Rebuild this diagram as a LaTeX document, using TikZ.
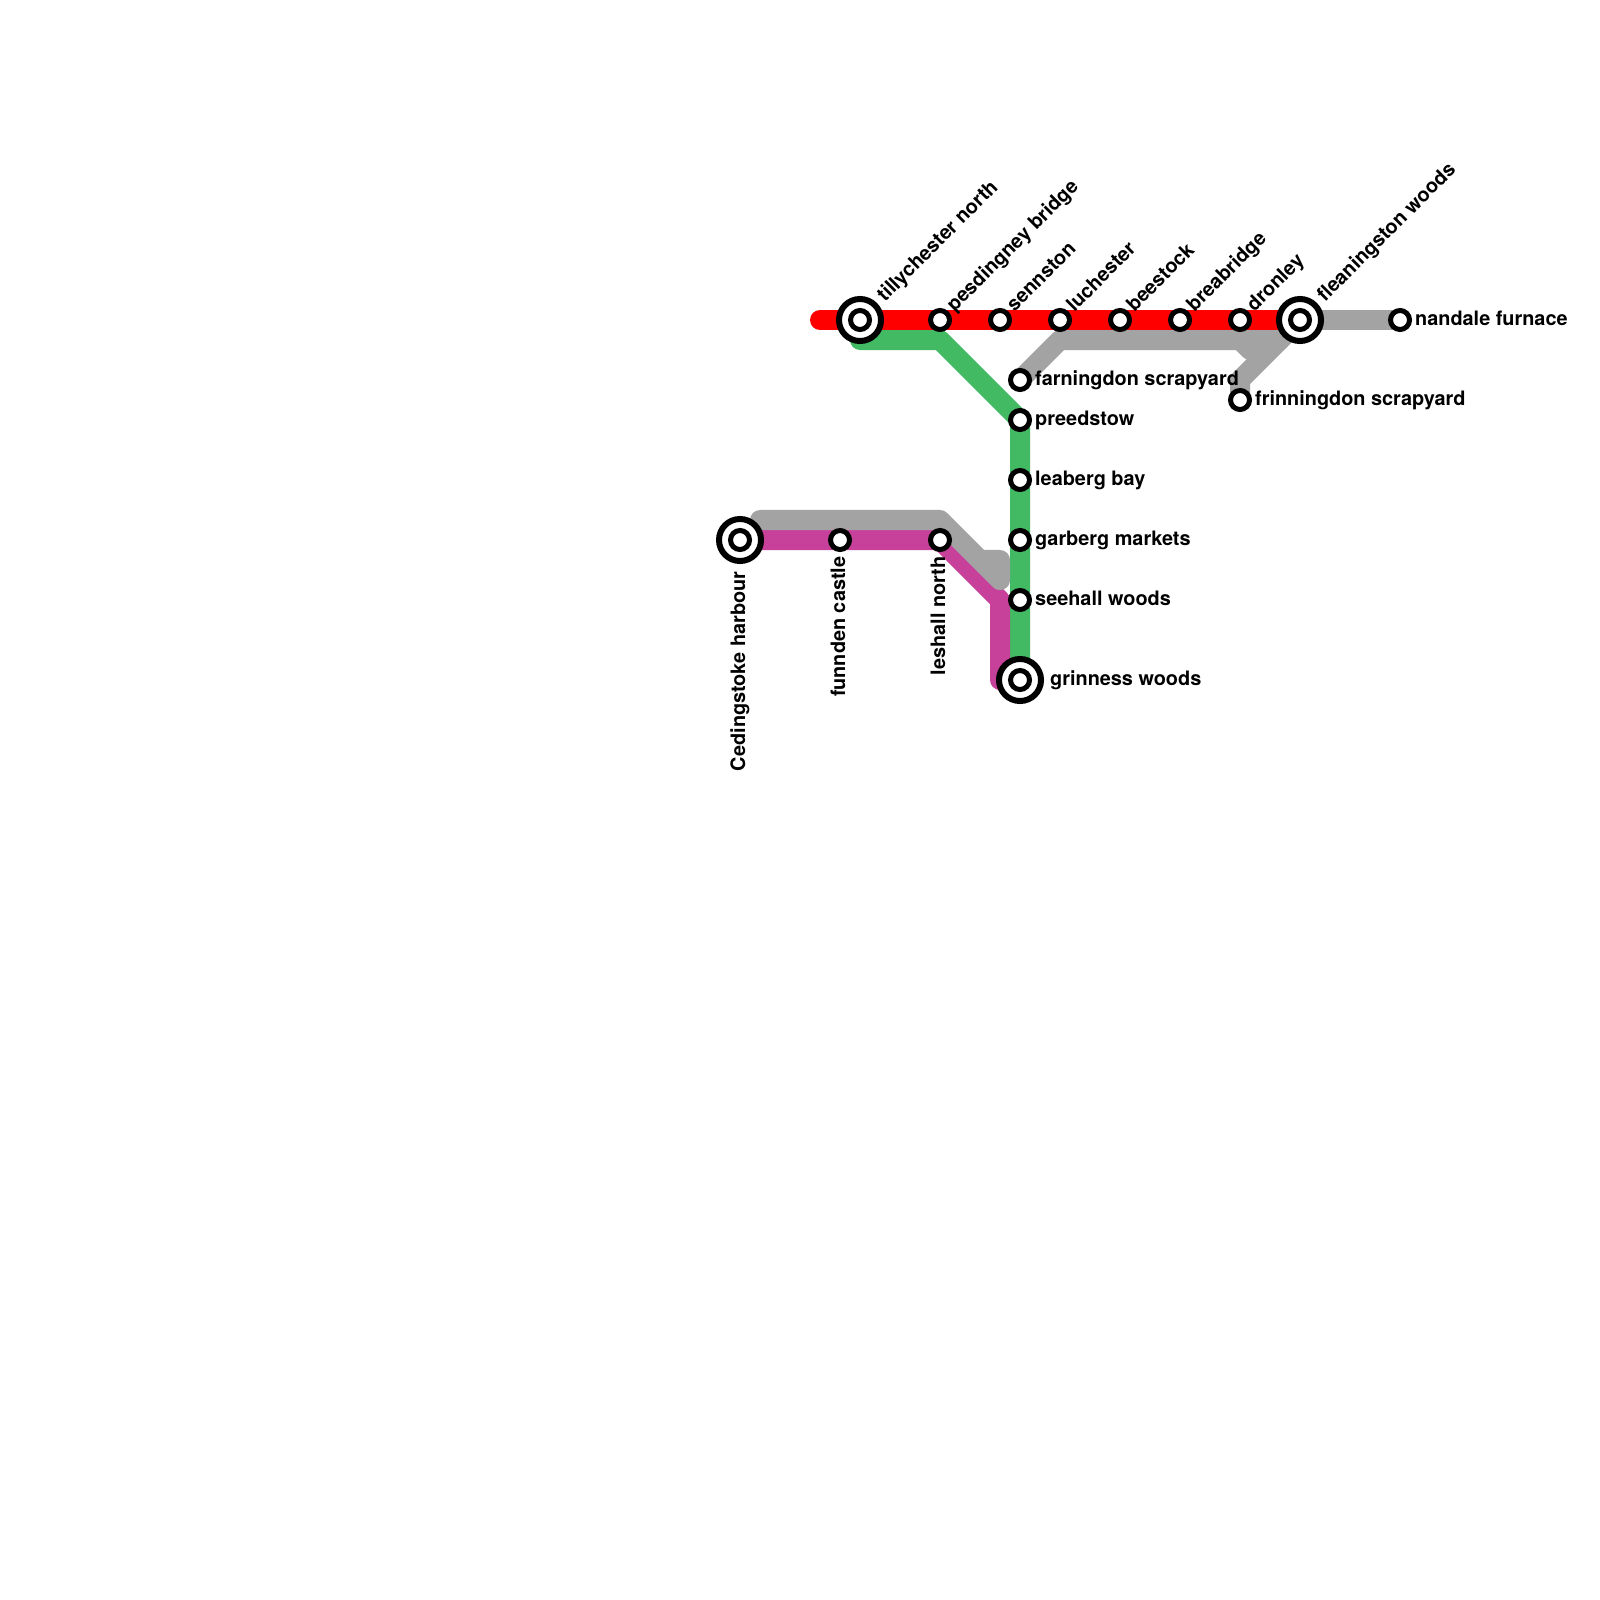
\documentclass[tikz,border=0pt]{standalone}
\usepackage{fontspec}
\setmainfont{TeX Gyre Heros}
\usetikzlibrary{backgrounds}
\definecolor{linered}{HTML}{FF0000}
\definecolor{linegreen}{HTML}{42B963}
\definecolor{linegrey}{HTML}{A3A3A3}
\definecolor{linepink}{HTML}{C7419B}
\tikzset{
  metro/.style={line width=0.2cm,line cap=round,line join=round},
  station/.style={circle,draw=black,fill=white,line width=0.05cm,minimum size=0.19cm,inner sep=0pt},
  hub/.style={circle,draw=black,fill=white,line width=0.06cm,minimum size=0.42cm,inner sep=0pt},
  stationtext/.style={font=\bfseries\fontsize{5.65pt}{6pt}\selectfont,inner sep=0pt},
  eastname/.style={stationtext,anchor=base west},
  northname/.style={stationtext,anchor=base west,rotate=45},
  southname/.style={stationtext,anchor=base east,rotate=90},
}
\begin{document}
\begin{tikzpicture}[x=0.01cm,y=-0.01cm]
  \useasboundingbox (0,0) rectangle (1600,1600);

  % top line
  \node[hub] (tilly) at (860,320) {};
  \node[station] (tillyin) at (tilly) {};
  \node[station] (pesding) at (940,320) {};
  \node[station] (senn) at (1000,320) {};
  \node[station] (luch) at (1060,320) {};
  \node[station] (bees) at (1120,320) {};
  \node[station] (brea) at (1180,320) {};
  \node[station] (dron) at (1240,320) {};
  \node[hub] (flean) at (1300,320) {};
  \node[station] (fleanin) at (flean) {};
  \node[station] (nand) at (1400,320) {};

  % down the middle
  \node[station] (farn) at (1020,380) {};
  \node[station] (preed) at (1020,420) {};
  \node[station] (leab) at (1020,480) {};
  \node[station] (garb) at (1020,540) {};
  \node[station] (seeh) at (1020,600) {};
  \node[hub] (grin) at (1020,680) {};
  \node[station] (grinin) at (grin) {};
  \node[station] (frin) at (1240,400) {};

  % left branch
  \node[hub] (ceding) at (740,540) {};
  \node[station] (cedingin) at (ceding) {};
  \node[station] (funn) at (840,540) {};
  \node[station] (lesh) at (940,540) {};

  % bends
  \coordinate (redstart) at (820,320);
  \coordinate (greenstart) at (860,340);
  \coordinate (greenbend) at (940,340);
  \coordinate (greyleft) at (1060,340);
  \coordinate (greyright) at (1280,340);
  \coordinate (greyfork) at (1240,340);
  \coordinate (greynotch) at (1250,350);
  \coordinate (greydrop) at (1240,380);
  \coordinate (backa) at (760,520);
  \coordinate (backb) at (940,520);
  \coordinate (backc) at (1000,580);
  \coordinate (backd) at (1000,560);
  \coordinate (backe) at (985,560);
  \coordinate (pinkb) at (1000,600);
  \coordinate (pinkc) at (1000,680);

  \begin{pgfonlayer}{background}
    \draw[metro,linegreen] (greenstart) -- (greenbend) -- (preed.center) -- (grin.center);
    \draw[metro,linepink] (ceding.center) -- (lesh.center) -- (pinkb) -- (pinkc) -- (grin.center);
    \draw[metro,linegrey] (flean.center) -- (nand.center);
    \draw[metro,linegrey] (farn.center) -- (greyleft) -- (greyright);
    \draw[metro,linegrey] (greyfork) -- (greynotch);
    \draw[metro,linegrey] (frin.center) -- (greydrop) -- (flean.center);
    \draw[metro,linegrey] (backa) -- (backb) -- (backc) -- (backd) -- (backe);
    \draw[metro,linered] (redstart) -- (flean.center);
  \end{pgfonlayer}

  % names
  \node[northname] (tillyname) at ([shift={(24.5,-17)}]tilly.center) {tillychester north};
  \node[northname] (pesdingname) at ([shift={(14,-7)}]pesding.center) {pesdingney bridge};
  \node[northname] (sennname) at ([shift={(14,-7)}]senn.center) {sennston};
  \node[northname] (luchname) at ([shift={(14,-7)}]luch.center) {luchester};
  \node[northname] (beesname) at ([shift={(14,-7)}]bees.center) {beestock};
  \node[northname] (breaname) at ([shift={(14,-7)}]brea.center) {breabridge};
  \node[northname] (dronname) at ([shift={(14,-7)}]dron.center) {dronley};
  \node[northname] (fleanname) at ([shift={(24.5,-17)}]flean.center) {fleaningston woods};
  \node[eastname] (nandname) at ([shift={(14.5,5)}]nand.center) {nandale furnace};
  \node[eastname] (farnname) at ([shift={(14.5,5)}]farn.center) {farningdon scrapyard};
  \node[eastname] (frinname) at ([shift={(14.5,5)}]frin.center) {frinningdon scrapyard};
  \node[eastname] (preedname) at ([shift={(14.5,5)}]preed.center) {preedstow};
  \node[eastname] (leabname) at ([shift={(14.5,5)}]leab.center) {leaberg bay};
  \node[eastname] (garbname) at ([shift={(14.5,5)}]garb.center) {garberg markets};
  \node[eastname] (seehname) at ([shift={(14.5,5)}]seeh.center) {seehall woods};
  \node[eastname] (grinname) at ([shift={(29.5,5)}]grin.center) {grinness woods};
  \node[southname] (cedingname) at ([shift={(5,31)}]ceding.center) {Cedingstoke harbour};
  \node[southname] (funnname) at ([shift={(5,16)}]funn.center) {funnden castle};
  \node[southname] (leshname) at ([shift={(5,16)}]lesh.center) {leshall north};
\end{tikzpicture}
\end{document}
